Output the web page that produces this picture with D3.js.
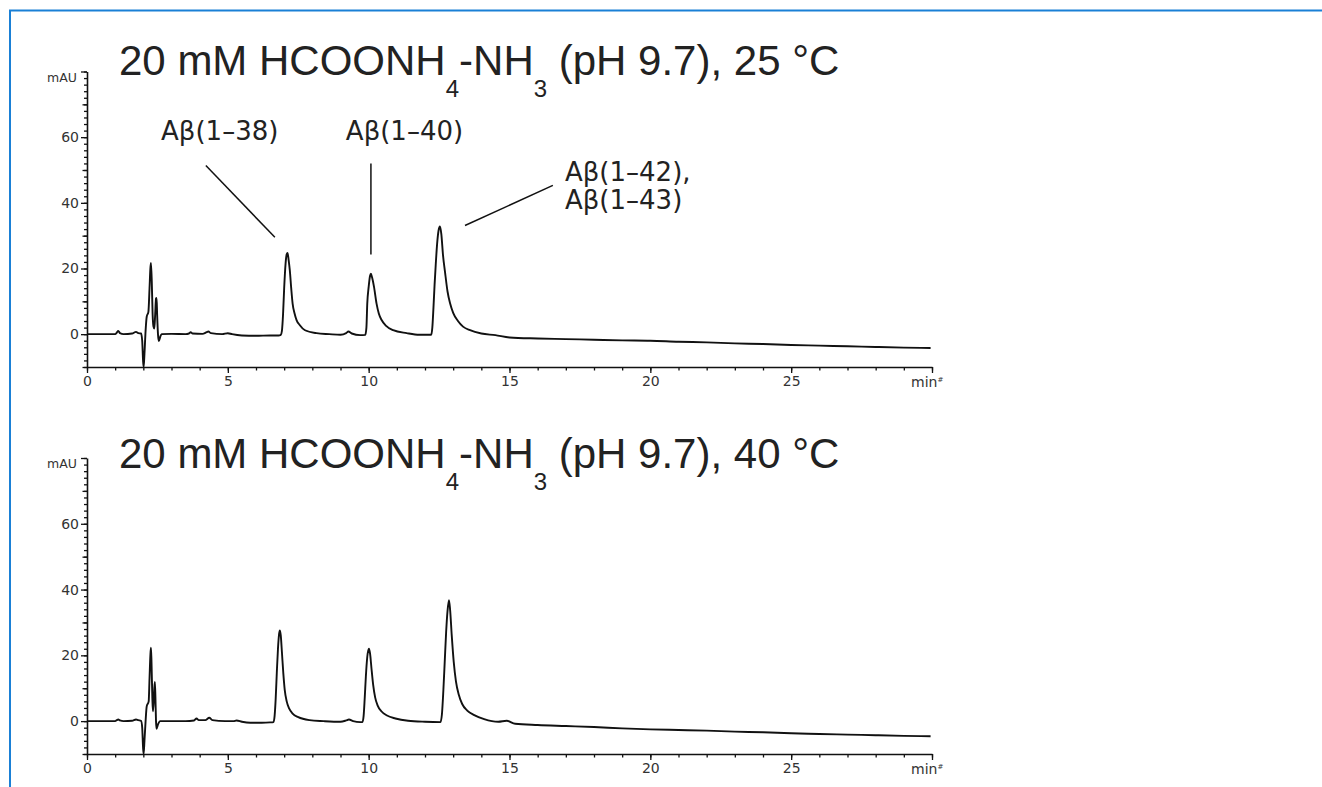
<!DOCTYPE html>
<html>
<head>
<meta charset="utf-8">
<script src="https://cdn.jsdelivr.net/npm/d3@7"></script>
<style>
  body { margin: 0; background: #fff; }
  svg { display: block; }
  text { white-space: pre; }
</style>
</head>
<body>
<div id="chart"></div>
<script>

// Data: chromatogram traces, [time (min), absorbance (mAU)]

var trace25 = [
  [0, 0], [1.0, 0], [1.06, 0.5], [1.11, 1.0], [1.17, 0.3], [1.3, 0], [1.6, 0.2], [1.74, 0.7],
  [1.82, 0.3], [1.92, 0.2], [1.96, -2], [1.99, -8], [2.01, -10], [2.04, -6], [2.08, 1],
  [2.12, 5.3], [2.18, 6.8], [2.22, 14], [2.25, 20], [2.27, 21.7], [2.30, 16], [2.33, 6],
  [2.36, 2.3], [2.39, 1.7], [2.42, 6], [2.45, 10.8], [2.47, 11], [2.49, 6], [2.52, 0],
  [2.55, -2.1], [2.60, -0.8], [2.65, 0], [3.0, 0.1], [3.5, 0], [3.62, 0.2], [3.68, 0.6],
  [3.75, 0.2], [4.1, 0.1], [4.25, 0.6], [4.31, 0.8], [4.4, 0.3], [4.8, 0], [5.0, 0.3],
  [5.15, 0], [5.5, -0.4], [6.0, -0.5], [6.5, -0.4], [6.8, -0.4], [6.88, -0.2],
  [6.92, 1], [6.96, 6], [7.00, 14], [7.05, 21.5], [7.09, 24.3], [7.12, 24.7], [7.16, 22.5],
  [7.20, 19.5], [7.25, 14], [7.30, 9.3], [7.37, 6.3], [7.44, 4.3], [7.55, 2.8], [7.74, 1.2],
  [8.15, 0.3], [8.6, 0], [9.0, -0.2], [9.2, 0.3], [9.28, 0.8], [9.4, 0.2], [9.7, -0.3],
  [9.88, -0.2], [9.92, 2], [9.95, 9.3], [10.00, 14.4], [10.05, 17.8], [10.08, 18.4],
  [10.12, 17.3], [10.19, 14.4], [10.28, 9.3], [10.36, 6.3], [10.46, 4.3], [10.62, 2.5],
  [10.87, 1.2], [11.35, 0.3], [11.8, -0.2], [12.22, -0.2], [12.26, 2], [12.30, 8],
  [12.34, 15], [12.38, 21], [12.43, 27.5], [12.48, 31.5], [12.53, 32.8], [12.58, 30.5],
  [12.64, 24], [12.71, 19], [12.80, 13], [12.89, 9.4], [13.0, 6.5], [13.17, 4.0],
  [13.35, 2.3], [13.6, 1.2], [14.0, 0.2], [14.5, -0.3], [15, -1.0], [16, -1.3], [17, -1.5],
  [18, -1.7], [19, -1.9], [20, -2.0], [21, -2.3], [22, -2.5], [23, -2.8], [24, -3.0],
  [25, -3.3], [26, -3.5], [27, -3.7], [28, -3.9], [29, -4.1], [29.95, -4.2]
];

var trace40 = [
  [0, 0], [1.0, 0], [1.06, 0.3], [1.11, 0.5], [1.17, 0.2], [1.3, 0], [1.6, 0.1], [1.74, 0.5],
  [1.82, 0.3], [1.92, 0.1], [1.96, -2], [1.99, -8], [2.01, -10], [2.04, -6], [2.08, 0],
  [2.12, 4.5], [2.19, 6], [2.22, 13], [2.25, 20], [2.27, 22.3], [2.29, 18], [2.32, 7],
  [2.34, 3], [2.37, 6], [2.39, 10], [2.41, 11.9], [2.43, 7], [2.45, 0], [2.47, -2.3],
  [2.52, -1], [2.6, 0], [3.0, 0], [3.5, 0], [3.8, 0.2], [3.89, 0.8], [3.97, 0.3],
  [4.2, 0.3], [4.34, 1.0], [4.45, 0.3], [4.9, 0], [5.2, 0], [5.31, 0.2], [5.5, -0.2],
  [5.8, -0.5], [6.2, -0.5], [6.5, -0.4], [6.62, -0.3], [6.66, 1.5], [6.70, 7], [6.74, 15],
  [6.78, 22], [6.82, 26.5], [6.85, 27.6], [6.88, 26], [6.92, 21], [6.97, 14.5], [7.02, 9.5],
  [7.09, 6], [7.18, 3.8], [7.30, 2.3], [7.50, 1.2], [7.9, 0.3], [8.4, 0], [9.0, -0.2],
  [9.2, 0.2], [9.3, 0.5], [9.45, 0], [9.7, -0.3], [9.78, -0.3], [9.82, 1.5], [9.86, 7],
  [9.90, 13.5], [9.95, 19.5], [10.01, 22], [10.05, 20.5], [10.10, 16], [10.16, 11],
  [10.23, 7.2], [10.32, 4.7], [10.45, 3], [10.65, 1.7], [10.95, 0.8], [11.4, 0.1],
  [12.0, -0.2], [12.55, -0.3], [12.60, 2], [12.65, 9], [12.70, 18], [12.75, 27],
  [12.80, 33.5], [12.85, 36.8], [12.89, 34], [12.95, 26], [13.02, 18], [13.10, 12],
  [13.20, 8], [13.32, 5.2], [13.50, 3.2], [13.75, 1.8], [14.1, 0.6], [14.6, -0.2],
  [14.9, 0.1], [15.2, -0.8], [16, -1.2], [17, -1.5], [18, -1.8], [19, -2.2], [20, -2.5],
  [21, -2.7], [22, -2.9], [23, -3.2], [24, -3.4], [25, -3.7], [26, -3.9], [27, -4.1],
  [28, -4.3], [29, -4.5], [29.95, -4.6]
];

// Axis ticks

var xMajor = [0, 5, 10, 15, 20, 25, 30];
var xLabels = ['0', '5', '10', '15', '20', '25', ''];
var yMajor = [0, 20, 40, 60, 80];
var yLabels = ['0', '20', '40', '60', ''];
var yMid = [-10, 10, 30, 50, 70];

// Titles (pieces: text, subscript, text, subscript, text)

var title25 = ['20 mM HCOONH', '4', '-NH', '3', ' (pH 9.7), 25 °C'];
var title40 = ['20 mM HCOONH', '4', '-NH', '3', ' (pH 9.7), 40 °C'];

// Peak labels for the upper trace, with a leader line [x1,y1,x2,y2] in data units

var peakLabels = [
  { text: 'Aβ(1–38)', at: [2.63, 59.0], leader: [4.22, 51.4, 6.67, 29.5] },
  { text: 'Aβ(1–40)', at: [9.19, 59.0], leader: [10.08, 52.0, 10.08, 24.3] },
  { text: 'Aβ(1–42),', at: [16.97, 46.8], leader: [16.54, 45.3, 13.42, 33.1] },
  { text: 'Aβ(1–43)', at: [16.97, 38.2], leader: null }
];

// Dimensions

var width = 1322;
var height = 787;

var panels = [
  { trace: trace25, title: title25, top: 71.5, bottom: 367, titleY: 75, labels: peakLabels },
  { trace: trace40, title: title40, top: 458, bottom: 754, titleY: 468, labels: [] }
];

var x = d3.scaleLinear().domain([0, 30]).range([87, 932]);

var svg = d3.select('#chart').append('svg')
    .attr('width', width)
    .attr('height', height);

// Blue frame (top and left edges)

svg.append('path')
    .attr('d', 'M10,787 L10,10.5 L1322,10.5')
    .attr('fill', 'none')
    .attr('stroke', '#1a80d6')
    .attr('stroke-width', 2);

function styleAxis(sel) {
  sel.select('.domain').attr('stroke', '#111').attr('stroke-width', 1.6);
  sel.selectAll('.tick line').attr('stroke', '#111').attr('stroke-width', 1.3);
  sel.selectAll('.tick text')
     .attr('fill', '#333')
     .style('font-family', '"DejaVu Sans", Verdana, sans-serif')
     .style('font-size', '14px');
}

function styleMinor(sel) {
  sel.select('.domain').remove();
  sel.selectAll('.tick line').attr('stroke', '#111').attr('stroke-width', 1.3);
}

panels.forEach(function(p) {

  var y = d3.scaleLinear().domain([-10, 80]).range([p.bottom, p.top]);
  var g = svg.append('g');

  // x axis: minor ticks every minute, major every 5

  g.append('g')
      .attr('transform', 'translate(0,' + p.bottom + ')')
      .call(d3.axisBottom(x).tickValues(d3.range(0, 31)).tickSize(3.5).tickFormat(''))
      .call(styleMinor);

  g.append('g')
      .attr('transform', 'translate(0,' + p.bottom + ')')
      .call(d3.axisBottom(x).tickValues(xMajor).tickSize(6).tickSizeOuter(0).tickPadding(3)
        .tickFormat(function(d, i) { return xLabels[i]; }))
      .call(styleAxis);

  // y axis: minor every 2 mAU, mid at odd tens, major at even tens

  g.append('g')
      .attr('transform', 'translate(' + x(0) + ',0)')
      .call(d3.axisLeft(y).tickValues(d3.range(-10, 81, 2)).tickSize(3).tickFormat(''))
      .call(styleMinor);

  g.append('g')
      .attr('transform', 'translate(' + x(0) + ',0)')
      .call(d3.axisLeft(y).tickValues(yMid).tickSize(4.5).tickFormat(''))
      .call(styleMinor);

  g.append('g')
      .attr('transform', 'translate(' + x(0) + ',0)')
      .call(d3.axisLeft(y).tickValues(yMajor).tickSize(6).tickSizeOuter(0).tickPadding(2)
        .tickFormat(function(d, i) { return yLabels[i]; }))
      .call(styleAxis);

  // unit labels

  g.append('text')
      .attr('x', x(0) - 10)
      .attr('y', p.top + 10)
      .attr('text-anchor', 'end')
      .attr('fill', '#333')
      .style('font-family', '"DejaVu Sans", Verdana, sans-serif')
      .style('font-size', '12.5px')
      .text('mAU');

  var minLabel = g.append('text')
      .attr('x', x(30) - 21)
      .attr('y', p.bottom + 20)
      .attr('fill', '#333')
      .style('font-family', '"DejaVu Sans", Verdana, sans-serif')
      .style('font-size', '14px');
  minLabel.append('tspan').text('min');
  minLabel.append('tspan').attr('dy', -5).style('font-size', '7px').text('#');

  // trace

  var line = d3.line()
      .x(function(d) { return x(d[0]); })
      .y(function(d) { return y(d[1]); })
      .curve(d3.curveMonotoneX);

  g.append('path')
      .datum(p.trace)
      .attr('d', line)
      .attr('fill', 'none')
      .attr('stroke', '#111')
      .attr('stroke-width', 1.9)
      .attr('stroke-linejoin', 'round');

  // title with subscripts

  var t = g.append('text')
      .attr('x', 119)
      .attr('y', p.titleY)
      .attr('fill', '#222')
      .style('font-family', '"Liberation Sans", Arial, sans-serif')
      .style('font-size', '42px');
  p.title.forEach(function(s, i) {
    var ts = t.append('tspan').text(s);
    if (i % 2 === 1) ts.attr('dy', 22).style('font-size', '24px');
    else if (i > 0) ts.attr('dy', -22);
  });

  // peak labels

  p.labels.forEach(function(a) {
    if (a.leader) {
      g.append('line')
          .attr('x1', x(a.leader[0])).attr('y1', y(a.leader[1]))
          .attr('x2', x(a.leader[2])).attr('y2', y(a.leader[3]))
          .attr('stroke', '#111')
          .attr('stroke-width', 1.5);
    }

    g.append('text')
        .attr('x', x(a.at[0]))
        .attr('y', y(a.at[1]))
        .attr('fill', '#222')
        .style('font-family', '"DejaVu Sans", Verdana, sans-serif')
        .style('font-size', '26px')
        .text(a.text);
  });
});

</script>
</body>
</html>
